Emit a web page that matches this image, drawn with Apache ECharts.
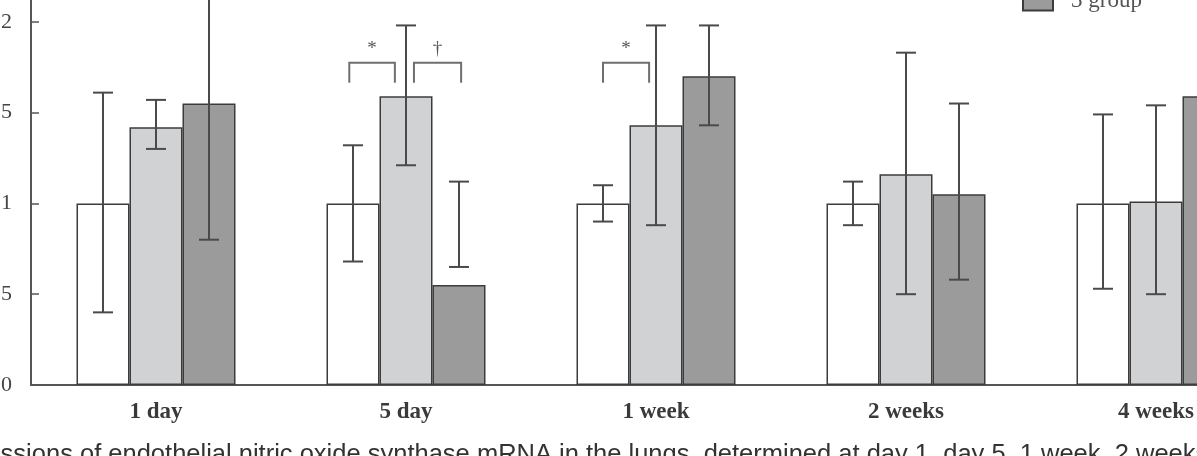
<!DOCTYPE html>
<html>
<head>
<meta charset="utf-8">
<script src="https://cdn.jsdelivr.net/npm/echarts@6/dist/echarts.min.js"></script>
<style>
  html, body { margin: 0; padding: 0; background: #fff; overflow: hidden; }
  /* the figure is a crop: the drawing surface is larger than the window */
  #chart { width: 1281px; height: 525px; margin-top: -69px; }
</style>
</head>
<body>
<div id="chart"></div>
<script>
// data
const categories = ['1 day', '5 day', '1 week', '2 weeks', '4 weeks'];
const seriesNames = ['Control group', '1 group', '3 group'];
const controlVals = [1.0, 1.0, 1.0, 1.0, 1.0];
const group1Vals = [1.42, 1.59, 1.43, 1.16, 1.01];
const group3Vals = [1.55, 0.55, 1.70, 1.05, 1.59];
// error bar ranges [low, high]
const controlErr = [[0.40, 1.61], [0.68, 1.32], [0.90, 1.10], [0.88, 1.12], [0.53, 1.49]];
const group1Err = [[1.30, 1.57], [1.21, 1.98], [0.88, 1.98], [0.50, 1.83], [0.50, 1.54]];
const group3Err = [[0.80, 2.30], [0.65, 1.12], [1.43, 1.98], [0.58, 1.55], [1.30, 1.90]];
// significance brackets: category, from / to (in bar widths from category centre), symbol
const brackets = [
  [1, -1.07, -0.21, '*'],
  [1, 0.15, 1.04, '†'],
  [2, -1.0, -0.13, '*']
];
const bracketTop = 1.774;
const bracketLeg = 1.664;
const yTicks = [0, 0.5, 1, 1.5, 2, 2.5];

const CAT_GAP = 0.364;
const serif = '"Liberation Serif"';
const colors = ['#ffffff', '#d1d2d4', '#9b9b9b'];

const chart = echarts.init(document.getElementById('chart'));

function barWidthOf(api) {
  return api.size([1, 0])[0] * (1 - CAT_GAP) / 3;
}

function errRender(idx) {
  return function (params, api) {
    const cat = api.value(0);
    const lo = api.coord([cat, api.value(1)]);
    const hi = api.coord([cat, api.value(2)]);
    const x = lo[0] + (idx - 1) * barWidthOf(api);
    const half = 10;
    const style = { stroke: '#4a4a4a', lineWidth: 2 };
    return {
      type: 'group',
      children: [
        { type: 'line', shape: { x1: x, y1: hi[1], x2: x, y2: lo[1] }, style },
        { type: 'line', shape: { x1: x - half, y1: hi[1], x2: x + half, y2: hi[1] }, style },
        { type: 'line', shape: { x1: x - half, y1: lo[1], x2: x + half, y2: lo[1] }, style }
      ]
    };
  };
}

function bracketRender(params, api) {
  const cat = api.value(0);
  const bw = barWidthOf(api);
  const top = api.coord([cat, bracketTop]);
  const leg = api.coord([cat, bracketLeg]);
  const x1 = top[0] + api.value(1) * bw;
  const x2 = top[0] + api.value(2) * bw;
  const style = { stroke: '#6f6f6f', lineWidth: 2, fill: null };
  return {
    type: 'group',
    children: [
      { type: 'polyline', shape: { points: [[x1, leg[1]], [x1, top[1]], [x2, top[1]], [x2, leg[1]]] }, style },
      {
        type: 'text',
        style: {
          x: (x1 + x2) / 2, y: top[1] - 4,
          text: brackets[params.dataIndex][3],
          align: 'center', verticalAlign: 'bottom',
          font: '19px ' + serif, fill: '#555'
        }
      }
    ]
  };
}

const valsList = [controlVals, group1Vals, group3Vals];
const errList = [controlErr, group1Err, group3Err];

const series = [];
seriesNames.forEach((name, i) => {
  series.push({
    name,
    type: 'bar',
    data: valsList[i],
    barGap: '0%',
    barCategoryGap: (CAT_GAP * 100) + '%',
    itemStyle: { color: colors[i], borderColor: '#3c3c3c', borderWidth: 1.5 },
    emphasis: { disabled: true }
  });
});
errList.forEach((errs, i) => {
  series.push({
    type: 'custom',
    renderItem: errRender(i),
    data: errs.map((e, c) => [c, e[0], e[1]]),
    encode: { x: 0, y: [1, 2] },
    z: 5,
    silent: true
  });
});
series.push({
  type: 'custom',
  renderItem: bracketRender,
  data: brackets.map(b => [b[0], b[1], b[2]]),
  encode: { x: 0 },
  z: 5,
  silent: true
});

chart.setOption({
  backgroundColor: '#fff',
  animation: false,
  grid: { left: 31, right: 0, top: 0, bottom: 71, containLabel: false, outerBoundsMode: 'none' },
  legend: {
    data: seriesNames,
    orient: 'vertical',
    left: 1017,
    top: 0,
    icon: 'rect',
    itemWidth: 30,
    itemHeight: 20,
    itemGap: 3.5,
    textStyle: { fontFamily: serif, fontSize: 23, lineHeight: 20, color: '#555', padding: [0, 0, 0, 13] }
  },
  xAxis: {
    type: 'category',
    data: categories,
    axisLine: { lineStyle: { color: '#555', width: 2 } },
    axisTick: { inside: true, length: 6, lineStyle: { color: '#555', width: 1.5 } },
    axisLabel: { margin: 16, fontFamily: serif, fontWeight: 'bold', fontSize: 23, color: '#3a3a3a' }
  },
  yAxis: {
    type: 'value',
    min: yTicks[0],
    max: yTicks[yTicks.length - 1],
    interval: yTicks[1] - yTicks[0],
    splitLine: { show: false },
    axisLine: { show: true, lineStyle: { color: '#555', width: 2 } },
    axisTick: { show: true, inside: true, length: 8, lineStyle: { color: '#555', width: 1.5 } },
    axisLabel: { margin: 19, fontFamily: serif, fontSize: 22, color: '#444' }
  },
  graphic: [{
    type: 'text',
    left: -66,
    top: 511,
    style: {
      text: 'Expressions of endothelial nitric oxide synthase mRNA in the lungs, determined at day 1, day 5, 1 week, 2 weeks, and 4 weeks',
      font: '25.5px "Liberation Sans"',
      fill: '#333'
    }
  }],
  series
});
</script>
</body>
</html>
